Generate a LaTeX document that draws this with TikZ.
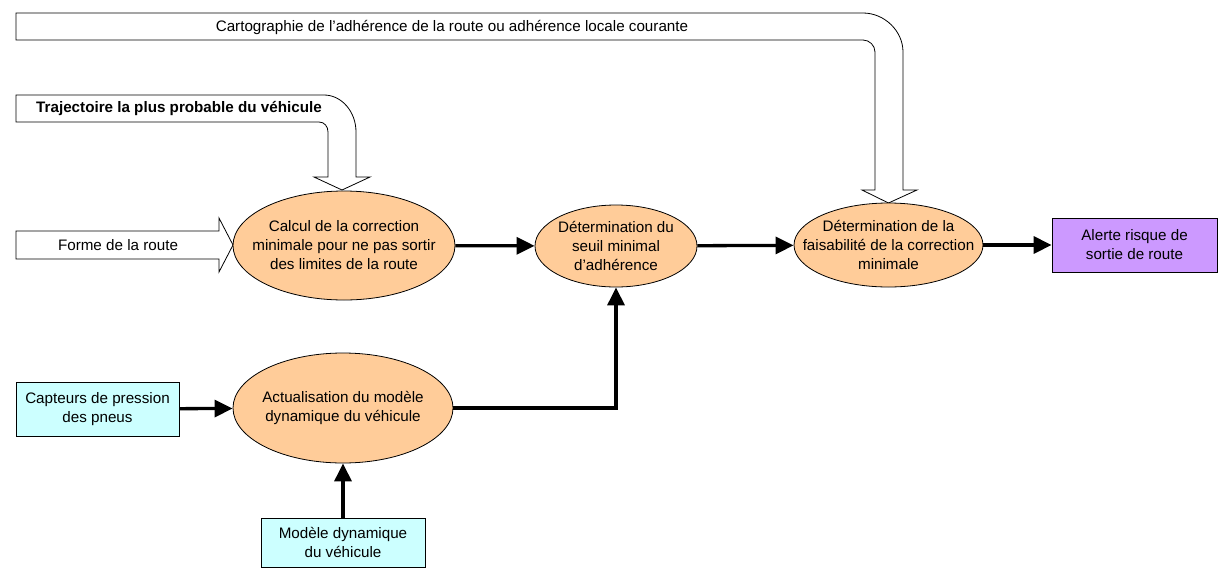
\documentclass[tikz,border=0pt]{standalone}
\usepackage{fontspec}
\setmainfont{Liberation Sans}
\usepackage{tikz}
\usetikzlibrary{arrows.meta,positioning,shapes.geometric}
\definecolor{procfill}{HTML}{FFCC99}
\definecolor{srcfill}{HTML}{CCFFFF}
\definecolor{alertfill}{HTML}{CC99FF}
\tikzset{process/.style={
    ellipse, draw, fill=procfill,
    line width=0.8pt,
    align=center,
    inner xsep=-30pt, inner ysep=-10pt
  },
  source/.style={
    rectangle, draw, fill=srcfill,
    line width=0.8pt,
    align=center,
    inner sep=0pt
  },
  alert/.style={source, fill=alertfill},
  flow/.style={
    line width=3.3pt,
    -{Triangle[length=18pt,width=17pt]}
  },
  hollow/.style={draw, fill=white, line width=0.8pt, line join=miter}
}

\begin{document}
\begin{tikzpicture}[x=1pt, y=-1pt, font=\fontsize{15.2}{19}\selectfont]
    \useasboundingbox (0,0) rectangle (1220,568);

    % bent input arrows
    \path[hollow] (16,13) -- (863,13)
        .. controls (884.5,13) and (903,31) .. (903,52) -- (903,190)
        -- (917,190) -- (888.5,203) -- (862,190) -- (875,190) -- (875,52)
        .. controls (875,45.5) and (869.5,40) .. (863,40) -- (16,40) -- cycle;
    \path[hollow] (16,95) -- (324,95)
        .. controls (341.5,95) and (356,111.5) .. (356,132) -- (356,177)
        -- (370,177) -- (342,190) -- (314,177) -- (328,177) -- (328,132)
        .. controls (328,126.5) and (324.5,122) .. (319,122) -- (16,122) -- cycle;
    \path[hollow] (16,231) -- (219,231) -- (219,218) -- (233,245)
        -- (219,272) -- (219,259) -- (16,259) -- cycle;

    \node (carto) at (452,27) {Cartographie de l’adhérence de la route ou adhérence locale courante};
    \node[font=\fontsize{15.2}{19}\selectfont\bfseries] (traj) at (179,108) {Trajectoire la plus probable du véhicule};
    \node (forme) at (118,245) {Forme de la route};

    % processing steps
    \node[process, minimum width=222pt, minimum height=109pt] (calc) at (344,245.5)
        {Calcul de la correction\\minimale pour ne pas sortir\\des limites de la route};
    \node[process, minimum width=162pt, minimum height=82pt] (seuil) at (616,246)
        {Détermination du\\seuil minimal\\d’adhérence};
    \node[process, minimum width=189pt, minimum height=84pt] (faisab) at (888.5,245)
        {Détermination de la\\faisabilité de la correction\\minimale};
    \node[alert, minimum width=165pt, minimum height=54pt] (alerte) at (1134.5,245)
        {Alerte risque de\\sortie de route};
    \node[process, minimum width=220pt, minimum height=110pt] (actual) at (343,408)
        {Actualisation du modèle\\dynamique du véhicule};
    \node[source, minimum width=163pt, minimum height=54pt] (capteurs) at (97.5,409)
        {Capteurs de pression\\des pneus};
    \node[source, minimum width=164pt, minimum height=49pt] (modele) at (343,542.5)
        {Modèle dynamique\\du véhicule};

    \draw[flow] (calc) -- (seuil);
    \draw[flow] (seuil) -- (faisab);
    \draw[flow] (faisab) -- (alerte);
    \draw[flow] (capteurs) -- (actual);
    \draw[flow] (modele) -- (actual);
    \draw[flow] (actual.east) -| (seuil.south);
\end{tikzpicture}
\end{document}
